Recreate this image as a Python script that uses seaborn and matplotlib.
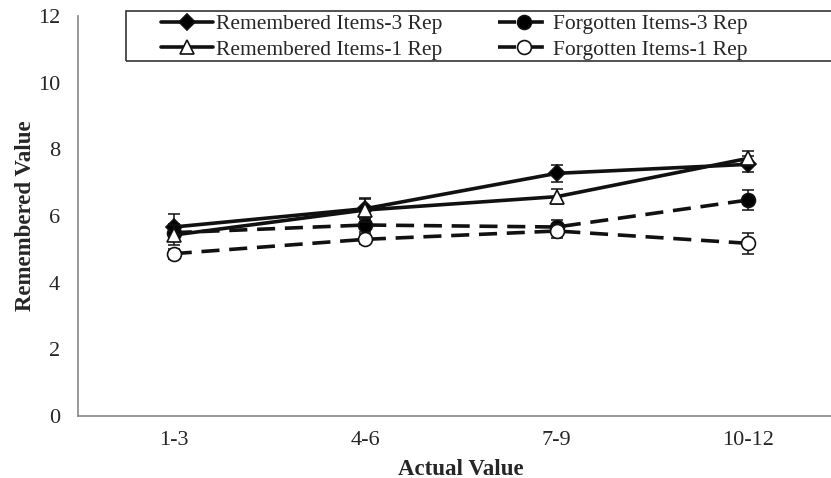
import numpy as np
import pandas as pd
import matplotlib
matplotlib.use("Agg")
import matplotlib.pyplot as plt
import seaborn as sns
from matplotlib.patches import Rectangle

categories = ["1-3", "4-6", "7-9", "10-12"]

rem_3rep = [5.67, 6.22, 7.28, 7.55]
rem_3rep_err = [0.38, 0.3, 0.25, 0.24]
rem_1rep = [5.43, 6.18, 6.58, 7.73]
rem_1rep_err = [0.3, 0.35, 0.23, 0.23]
forg_3rep = [5.5, 5.73, 5.67, 6.48]
forg_3rep_err = [0.25, 0.2, 0.2, 0.31]
forg_1rep = [4.87, 5.3, 5.55, 5.18]
forg_1rep_err = [0.15, 0.15, 0.2, 0.31]

labels = ["Remembered Items-3 Rep", "Remembered Items-1 Rep",
          "Forgotten Items-3 Rep", "Forgotten Items-1 Rep"]

sns.set_style("white")
plt.rcParams["font.family"] = ["Liberation Serif", "DejaVu Serif"]

fig = plt.figure(figsize=(8.31, 4.78), dpi=100)
ax = fig.add_axes([78 / 831, 1 - 416 / 478, (844 - 78) / 831, 400 / 478])

dash = (0, (5, 2.7))
series = [
    (rem_3rep, rem_3rep_err, labels[0], "D", "black", "-", 8, 4),
    (rem_1rep, rem_1rep_err, labels[1], "^", "white", "-", 10, 5),
    (forg_3rep, forg_3rep_err, labels[2], "o", "black", dash, 10, 2),
    (forg_1rep, forg_1rep_err, labels[3], "o", "white", dash, 10, 3),
]

for vals, errs, lab, mk, fc, ls, ms, z in series:
    ax.errorbar(np.arange(len(categories)), vals, yerr=errs, fmt="none",
                ecolor="#111111", elinewidth=1.1, capsize=4.5, capthick=1.1,
                zorder=z - 0.5)
    sns.lineplot(x=categories, y=vals, ax=ax, color="#111111", marker=mk,
                 markersize=ms, markerfacecolor=fc, markeredgecolor="#111111",
                 markeredgewidth=1.2, linewidth=2.6, linestyle=ls,
                 dash_capstyle="butt", label=lab, zorder=z)

ax.set_ylim(0, 12)
ax.set_yticks(range(0, 13, 2))
ax.set_xlim(-0.5, 3.5)
ax.set_xticks([-0.5, 0.5, 1.5, 2.5, 3.5])
ax.set_xticklabels([])
ax.set_xticks(range(4), minor=True)
ax.set_xticklabels(categories, minor=True)
ax.tick_params(axis="x", which="minor", length=0, pad=11, labelsize=16)
ax.tick_params(axis="x", which="major", length=5, color="#888888", width=1)
ax.tick_params(axis="y", length=5, color="#888888", width=1, labelsize=16, pad=8)
sns.despine(ax=ax)
for s in ["left", "bottom"]:
    ax.spines[s].set_color("#888888")
    ax.spines[s].set_linewidth(1.2)

ax.set_xlabel("Actual Value", fontsize=16.5, fontweight="bold", labelpad=6)
ax.set_ylabel("Remembered Value", fontsize=16.5, fontweight="bold", labelpad=1)

leg = ax.legend(ncol=2, loc="upper left", bbox_to_anchor=(161 / 831, 1 - 14 / 478),
                bbox_transform=fig.transFigure, frameon=False, fontsize=15.5,
                handlelength=2.4, handletextpad=0.15, columnspacing=2.6,
                labelspacing=0.25, borderaxespad=0, borderpad=0)

fig.patches.append(Rectangle((126 / 831, 1 - 61 / 478), (860 - 126) / 831, 50 / 478,
                             transform=fig.transFigure, fill=False,
                             edgecolor="#333333", linewidth=1.2))

fig.savefig("out.png", dpi=100)
